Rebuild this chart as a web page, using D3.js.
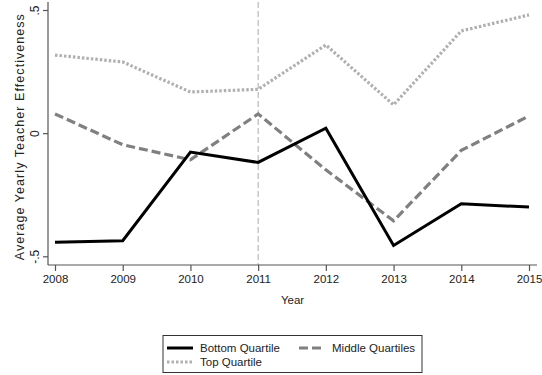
<!DOCTYPE html>
<html>
<head>
<meta charset="utf-8">
<script src="https://cdn.jsdelivr.net/npm/d3@7"></script>
<style>
  html, body { margin: 0; padding: 0; background: #fff; }
  svg { display: block; font-family: "Liberation Sans", Arial, sans-serif; }
</style>
</head>
<body>
<svg id="chart" width="542" height="375"></svg>
<script>
// Average yearly teacher effectiveness by quartile, 2008-2015
const years = [2008, 2009, 2010, 2011, 2012, 2013, 2014, 2015];
const bottomQuartile = [-0.443, -0.437, -0.077, -0.119, 0.020, -0.456, -0.287, -0.300];
const middleQuartiles = [0.078, -0.047, -0.108, 0.078, -0.149, -0.356, -0.070, 0.070];
const topQuartile = [0.317, 0.289, 0.167, 0.178, 0.358, 0.115, 0.415, 0.480];
const yTicks = [-0.5, 0, 0.5];
const yTickLabels = ["-.5", "0", ".5"];
const markerYear = 2011;

const series = [
  { name: "Bottom Quartile", values: bottomQuartile, color: "#000000", dash: null, width: 3 },
  { name: "Middle Quartiles", values: middleQuartiles, color: "#808080", dash: "9,4", width: 3.2 },
  { name: "Top Quartile", values: topQuartile, color: "#b0b0b0", dash: "2.5,2", width: 3.2 }
];

const svg = d3.select("#chart");
const axisColor = "#555";
const textColor = "#222";

const x = d3.scaleLinear().domain([2008, 2015]).range([55, 529]);
const y = d3.scaleLinear().domain([-0.5, 0.5]).range([256.3, 10]);

const plotLeft = 48, plotRight = 537, plotTop = 2, plotBottom = 265;

// vertical reference line
svg.append("line")
  .attr("x1", x(markerYear)).attr("x2", x(markerYear))
  .attr("y1", plotTop).attr("y2", plotBottom)
  .attr("stroke", "#aaa").attr("stroke-width", 1)
  .attr("stroke-dasharray", "6,3");

// x axis
const xAxis = svg.append("g")
  .attr("transform", `translate(0,${plotBottom})`)
  .call(d3.axisBottom(x).tickValues(years).tickFormat(d3.format("d")).tickSize(6).tickSizeOuter(0).tickPadding(4));
xAxis.select(".domain").remove();
xAxis.append("line").attr("x1", plotLeft).attr("x2", plotRight).attr("stroke", axisColor).attr("stroke-width", 1.2);
xAxis.selectAll(".tick line").attr("stroke", axisColor).attr("stroke-width", 1.2);
xAxis.selectAll(".tick text").attr("fill", textColor).attr("font-size", 11.5);

// y axis
const yAxis = svg.append("g")
  .attr("transform", `translate(${plotLeft},0)`)
  .call(d3.axisLeft(y).tickValues(yTicks).tickFormat((d, i) => yTickLabels[i]).tickSize(5).tickSizeOuter(0));
yAxis.select(".domain").remove();
yAxis.append("line").attr("y1", plotTop).attr("y2", plotBottom).attr("stroke", axisColor).attr("stroke-width", 1.2);
yAxis.selectAll(".tick line").attr("stroke", axisColor).attr("stroke-width", 1.2);
yAxis.selectAll(".tick text")
  .attr("fill", textColor).attr("font-size", 12)
  .attr("x", null).attr("dy", null)
  .attr("transform", "translate(-9,0) rotate(-90)")
  .attr("text-anchor", "middle");

// axis titles
svg.append("text")
  .attr("x", (plotLeft + plotRight) / 2).attr("y", 304)
  .attr("text-anchor", "middle").attr("font-size", 11.5).attr("fill", textColor)
  .text("Year");
svg.append("text")
  .attr("transform", `translate(23.5,${y(0) + 4}) rotate(-90)`)
  .attr("text-anchor", "middle").attr("font-size", 12.5).attr("fill", textColor)
  .attr("textLength", 246).attr("lengthAdjust", "spacing")
  .text("Average Yearly Teacher Effectiveness");

// series lines
const line = d3.line().x((d, i) => x(years[i])).y(d => y(d));
series.slice().reverse().forEach(s => {
  svg.append("path")
    .datum(s.values)
    .attr("d", line)
    .attr("fill", "none")
    .attr("stroke", s.color)
    .attr("stroke-width", s.width)
    .attr("stroke-dasharray", s.dash)
    .attr("stroke-linejoin", "miter");
});

// legend
const legend = svg.append("g");
legend.append("rect")
  .attr("x", 163).attr("y", 335.5).attr("width", 259).attr("height", 37)
  .attr("fill", "#fff").attr("stroke", "#333").attr("stroke-width", 1);
const legendPos = [
  { x: 167, y: 348 },
  { x: 299, y: 348 },
  { x: 167, y: 362 }
];
series.forEach((s, i) => {
  const p = legendPos[i];
  legend.append("line")
    .attr("x1", p.x).attr("x2", p.x + 26).attr("y1", p.y).attr("y2", p.y)
    .attr("stroke", s.color).attr("stroke-width", s.width)
    .attr("stroke-dasharray", s.dash);
  legend.append("text")
    .attr("x", p.x + 33).attr("y", p.y + 4)
    .attr("font-size", 11.5).attr("fill", textColor)
    .text(s.name);
});
</script>
</body>
</html>
